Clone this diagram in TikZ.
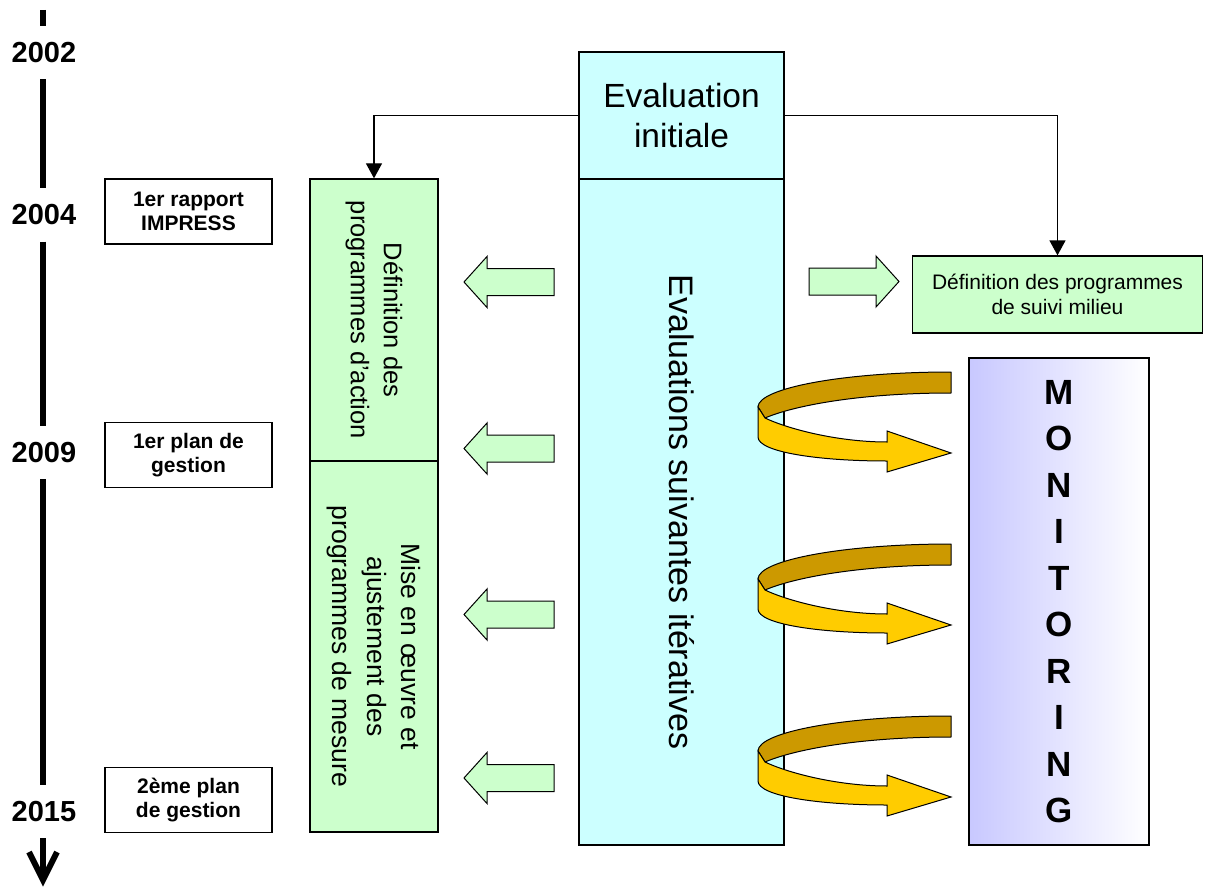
\documentclass[tikz,border=0pt]{standalone}
\usepackage{fontspec}
\setmainfont{Liberation Sans}
\usetikzlibrary{arrows.meta}
\definecolor{actgreen}{HTML}{CCFFCC}
\definecolor{evalcyan}{HTML}{CCFFFF}
\definecolor{monlav}{HTML}{C8C8FF}
\definecolor{ribbondark}{HTML}{CC9900}
\definecolor{ribbonlight}{HTML}{FFCC00}
\tikzset{
  box/.style={draw=black, line width=1.3pt, inner sep=0pt},
  year/.style={font=\fontsize{29}{34}\selectfont\bfseries, inner sep=0pt, minimum height=53pt},
  timeline/.style={line width=6pt, line cap=butt},
  note/.style={box, fill=white, minimum width=167pt, minimum height=65pt, align=center,
    font=\fontsize{21}{24.5}\selectfont\bfseries},
  vtext/.style={inner sep=0pt, align=center, rotate=-90, font=\fontsize{25.5}{33}\selectfont},
  conn/.style={line width=1.3pt, -{Triangle[length=15pt,width=16pt]}},
  blockarrow/.pic={
    \draw[line width=1pt, fill=actgreen, line join=miter]
      (0,-13.5) -- (67,-13.5) -- (67,-25.5) -- (90,0) -- (67,25.5) -- (67,13.5) -- (0,13.5) -- cycle;
  },
  twist/.pic={
    % back half of the ribbon
    \draw[line width=1pt, fill=ribbondark, line join=round]
      (193,0) .. controls (86,0) and (0,16) .. (0,35) -- (7,46)
      .. controls (35,34) and (100,21) .. (193,21) -- cycle;
    % front half with the arrow head
    \draw[line width=1pt, fill=ribbonlight, line join=miter]
      (7,46) .. controls (30,57) and (80,70) .. (129,70) -- (129,59) -- (193,81)
      -- (129,100) -- (129,89) .. controls (60,89) and (0,80) .. (0,65) -- (0,35) -- cycle;
  }
}
\begin{document}
\begin{tikzpicture}[x=1pt,y=-1pt]
\useasboundingbox (0,0) rectangle (1205,888);

% time axis
\coordinate (tl-top) at (43,10);
\node[year] (y2002) at (44,52.5) {2002};
\node[year] (y2004) at (44,215) {2004};
\node[year] (y2009) at (44,452.5) {2009};
\node[year] (y2015) at (44,811.5) {2015};
\coordinate (tl-end) at (43,880);
\coordinate (tl-vl) at (29,852);
\coordinate (tl-vr) at (57,852);
\draw[timeline] (tl-top) -- (y2002.north -| tl-top);
\draw[timeline] (y2002.south -| tl-top) -- (y2004.north -| tl-top);
\draw[timeline] (y2004.south -| tl-top) -- (y2009.north -| tl-top);
\draw[timeline] (y2009.south -| tl-top) -- (y2015.north -| tl-top);
\draw[timeline] (y2015.south -| tl-top) -- (tl-end);
\draw[timeline, line join=miter] (tl-vl) -- (tl-end) -- (tl-vr);

% milestones
\node[note] (r1) at (188.5,211.5) {1er rapport\\IMPRESS};
\node[note] (r2) at (188.5,455) {1er plan de\\gestion};
\node[note] (r3) at (188.5,800) {2ème plan\\de gestion};

% action programmes
\node[box, fill=actgreen, minimum width=128pt, minimum height=282pt] (defa) at (374,320) {};
\node[box, fill=actgreen, minimum width=128pt, minimum height=371pt] (mise) at (374,646.5) {};
\node[vtext] (defa-t) at (defa.center) {Définition des\\programmes d’action};
\node[vtext, font=\fontsize{26.5}{34.5}\selectfont] (mise-t) at (mise.center)
  {Mise en œuvre et\\ajustement des\\programmes de mesure};

% evaluations
\node[box, fill=evalcyan, minimum width=205pt, minimum height=127pt, align=center,
  font=\fontsize{33.5}{40}\selectfont] (evi) at (681.5,115.5) {Evaluation\\initiale};
\node[box, fill=evalcyan, minimum width=205pt, minimum height=666pt] (evs) at (681.5,512) {};
\node[inner sep=0pt, rotate=-90, font=\fontsize{34}{40}\selectfont] (evs-t) at (evs.center)
  {Evaluations suivantes itératives};

% monitoring programmes
\node[box, fill=actgreen, minimum width=290pt, minimum height=77pt, align=center,
  font=\fontsize{21}{25.5}\selectfont] (defs) at (1057.5,294.5)
  {Définition des programmes\\de suivi milieu};

\node[box, left color=monlav, right color=white, minimum width=180pt, minimum height=487pt,
  align=center, font=\fontsize{35}{46.5}\selectfont\bfseries] (mon) at (1059,601.5)
  {M\\O\\N\\I\\T\\O\\R\\I\\N\\G};

% connectors
\draw[conn] (evi.west) -| (defa.north);
\draw[conn] (evi.east) -| (defs.north);

% block arrows
\pic[rotate=180] at (554,282) {blockarrow};
\pic[rotate=180] at (554,448.5) {blockarrow};
\pic[rotate=180] at (554,614.5) {blockarrow};
\pic[rotate=180] at (554,778) {blockarrow};
\pic at (809,281.5) {blockarrow};

% monitoring loops
\pic at (758,372) {twist};
\pic at (758,544) {twist};
\pic at (758,716) {twist};
\end{tikzpicture}
\end{document}
